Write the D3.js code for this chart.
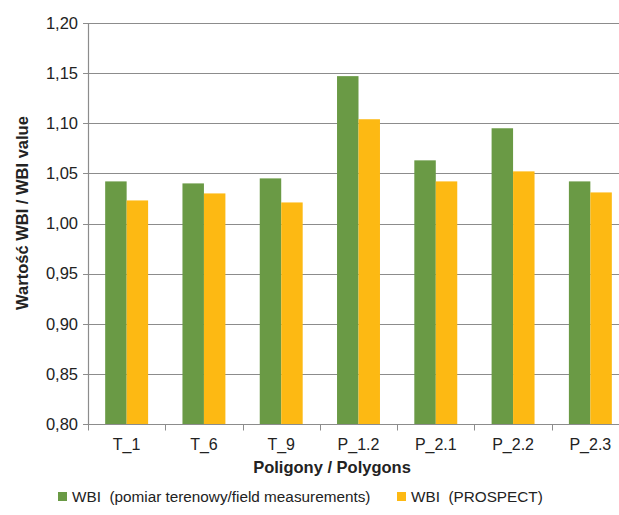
<!DOCTYPE html>
<html>
<head>
<meta charset="utf-8">
<script src="https://cdn.jsdelivr.net/npm/d3@7"></script>
<style>
  body { margin: 0; background: #fff; }
  text { font-family: "Liberation Sans", Arial, sans-serif; fill: #222; }
</style>
</head>
<body>
<div id="chart"></div>
<script>
const categories = ["T_1", "T_6", "T_9", "P_1.2", "P_2.1", "P_2.2", "P_2.3"];
const fieldValues = [1.042, 1.040, 1.045, 1.147, 1.063, 1.095, 1.042];
const prospectValues = [1.023, 1.030, 1.021, 1.104, 1.042, 1.052, 1.031];
const seriesNames = ["WBI  (pomiar terenowy/field measurements)", "WBI  (PROSPECT)"];
const yTicks = [0.80, 0.85, 0.90, 0.95, 1.00, 1.05, 1.10, 1.15, 1.20];

const width = 619, height = 515;
const margin = { top: 23, right: -10, bottom: 91, left: 88 };
const colors = ["#6a9a45", "#fdb913"];

const svg = d3.select("#chart").append("svg")
  .attr("width", width)
  .attr("height", height);

const x = d3.scaleBand()
  .domain(categories)
  .range([margin.left, width - margin.right])
  .paddingInner(0)
  .paddingOuter(0);

const inner = d3.scaleBand()
  .domain([0, 1])
  .range([0, x.bandwidth()])
  .paddingOuter(0.8)
  .paddingInner(0);

const y = d3.scaleLinear()
  .domain([0.80, 1.20])
  .range([height - margin.bottom, margin.top]);

const fmt = d => d.toFixed(2).replace(".", ",");

// gridlines
svg.append("g")
  .selectAll("line")
  .data(yTicks)
  .join("line")
  .attr("x1", margin.left)
  .attr("x2", width)
  .attr("y1", d => Math.round(y(d)) + 0.5)
  .attr("y2", d => Math.round(y(d)) + 0.5)
  .attr("stroke", "#8c8c8c")
  .attr("stroke-width", 1.2);

// y axis labels + ticks
svg.append("g")
  .selectAll("text")
  .data(yTicks)
  .join("text")
  .attr("x", margin.left - 10)
  .attr("y", d => y(d))
  .attr("dy", "0.35em")
  .attr("text-anchor", "end")
  .attr("font-size", 16.5)
  .text(fmt);

svg.append("g")
  .selectAll("line")
  .data(yTicks)
  .join("line")
  .attr("x1", margin.left - 5)
  .attr("x2", margin.left)
  .attr("y1", d => Math.round(y(d)) + 0.5)
  .attr("y2", d => Math.round(y(d)) + 0.5)
  .attr("stroke", "#8c8c8c");

svg.append("line")
  .attr("x1", margin.left + 0.5)
  .attr("x2", margin.left + 0.5)
  .attr("y1", y(1.20))
  .attr("y2", y(0.80))
  .attr("stroke", "#8c8c8c")
  .attr("stroke-width", 1.2);

// bars
const series = [fieldValues, prospectValues];
series.forEach((vals, si) => {
  svg.append("g")
    .selectAll("rect")
    .data(vals)
    .join("rect")
    .attr("x", (d, i) => x(categories[i]) + inner(si))
    .attr("width", inner.bandwidth())
    .attr("y", d => y(d))
    .attr("height", d => y(0.80) - y(d))
    .attr("fill", colors[si]);
});

// x axis
const xAxisY = Math.round(y(0.80)) + 0.5;
svg.append("line")
  .attr("x1", margin.left)
  .attr("x2", width)
  .attr("y1", xAxisY)
  .attr("y2", xAxisY)
  .attr("stroke", "#8c8c8c")
  .attr("stroke-width", 1.2);

const boundaries = categories.map(c => x(c)).concat([x.range()[1]]);
svg.append("g")
  .selectAll("line")
  .data(boundaries)
  .join("line")
  .attr("x1", d => Math.round(d) + 0.5)
  .attr("x2", d => Math.round(d) + 0.5)
  .attr("y1", xAxisY)
  .attr("y2", xAxisY + 6)
  .attr("stroke", "#8c8c8c");

svg.append("g")
  .selectAll("text")
  .data(categories)
  .join("text")
  .attr("x", d => x(d) + x.bandwidth() / 2)
  .attr("y", xAxisY + 25)
  .attr("text-anchor", "middle")
  .attr("font-size", 16)
  .text(d => d);

// axis titles
svg.append("text")
  .attr("x", 332)
  .attr("y", 473)
  .attr("text-anchor", "middle")
  .attr("font-size", 16.5)
  .attr("font-weight", "bold")
  .attr("fill", "#111")
  .text("Poligony / Polygons");

svg.append("text")
  .attr("transform", "translate(27.5," + 213 + ") rotate(-90)")
  .attr("text-anchor", "middle")
  .attr("font-size", 16.5)
  .attr("font-weight", "bold")
  .attr("fill", "#111")
  .text("Wartość WBI / WBI value");

// legend
const legendX = [58, 397];
const legend = svg.append("g");
seriesNames.forEach((name, i) => {
  legend.append("rect")
    .attr("x", legendX[i])
    .attr("y", 492)
    .attr("width", 9)
    .attr("height", 9)
    .attr("fill", colors[i]);
  legend.append("text")
    .attr("x", legendX[i] + 14)
    .attr("y", 502)
    .attr("font-size", 15.3)
    .style("white-space", "pre")
    .attr("xml:space", "preserve")
    .text(name);
});
</script>
</body>
</html>
